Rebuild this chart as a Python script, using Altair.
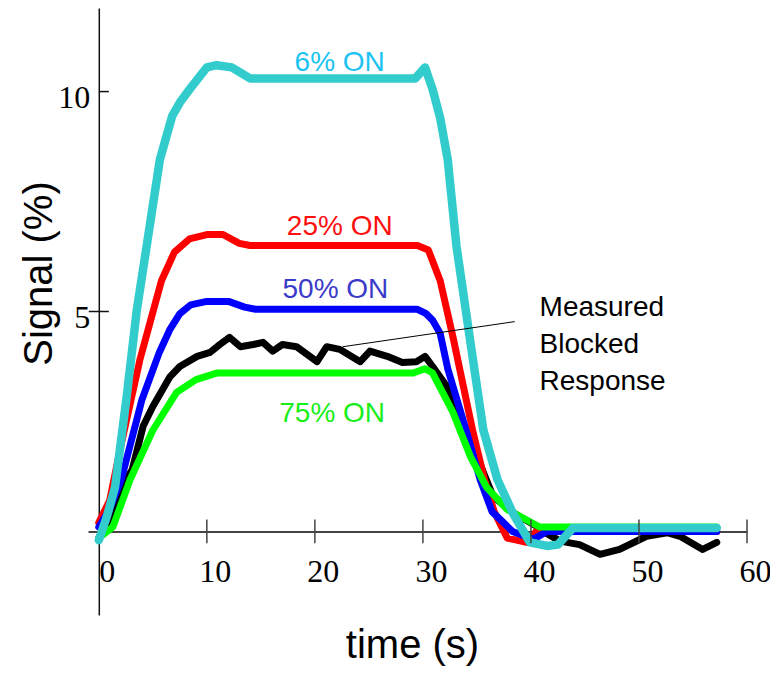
import altair as alt
import pandas as pd

# ---- data ----
t_6 = [0, 0.7, 1.5, 2.6, 3.5, 4.5, 5.65, 6.8, 7.5, 8.4, 10, 10.9, 12.3, 14, 29.3, 30.2, 30.9, 31.6, 32.3, 33.1, 34.4, 35.6, 36.9, 38.3, 39.9, 41.5, 42.5, 43.9, 57.2]
s_6 = [-0.2, 0.3, 1.0, 3.1, 5.0, 6.6, 8.45, 9.45, 9.75, 10.05, 10.55, 10.6, 10.55, 10.3, 10.3, 10.55, 10.05, 9.4, 8.45, 6.5, 4.3, 2.3, 1.18, 0.43, -0.25, -0.33, -0.3, 0.08, 0.08]

t_25 = [0, 1, 2, 3.8, 5.8, 7.0, 8.4, 10, 11.5, 13, 14, 29.5, 30.5, 31.6, 32.2, 32.8, 34.6, 35.7, 36.6, 37.8, 39.6, 40.5, 57.2]
s_25 = [0.2, 0.7, 1.9, 3.9, 5.7, 6.35, 6.65, 6.75, 6.75, 6.55, 6.5, 6.5, 6.4, 5.7, 5.05, 4.4, 2.3, 1.18, 0.45, -0.15, -0.25, 0.0, 0.0]

t_50 = [0, 1, 2.1, 4, 5.6, 6.6, 7.5, 8.5, 10, 12, 13.5, 14.5, 29.5, 30.3, 30.9, 31.6, 32.3, 34.0, 35.3, 36.4, 38.3, 40.2, 41.5, 57.2]
s_50 = [0.1, 0.5, 1.2, 3.0, 4.07, 4.6, 4.95, 5.15, 5.23, 5.23, 5.1, 5.05, 5.05, 4.95, 4.8, 4.5, 3.7, 2.3, 1.18, 0.45, 0.0, -0.18, 0.0, 0.0]

t_75 = [0, 1.3, 2.9, 5.0, 7.2, 9.0, 10.9, 29.1, 30.2, 30.9, 32.8, 34.4, 35.9, 37.8, 40.8, 57.2]
s_75 = [-0.15, 0.1, 1.18, 2.3, 3.16, 3.45, 3.6, 3.6, 3.7, 3.6, 2.7, 1.7, 1.0, 0.5, 0.1, 0.1]

t_meas = [0, 1, 2, 3.1, 4.1, 5.0, 6.6, 7.5, 9.1, 10.3, 11.2, 12.1, 13.1, 14.3, 15.2, 16.1, 17.0, 18.3, 20.2, 21.1, 22.3, 24.2, 25.1, 26.7, 28.1, 29.4, 30.2, 30.9, 32.2, 32.8, 34.4, 35.6, 36.5, 38.3, 40.6, 41.5, 42.7, 44.5, 46.4, 48.2, 50.7, 52.6, 53.8, 55.9, 57.2]
s_meas = [-0.15, 0.3, 0.95, 1.41, 2.39, 2.84, 3.52, 3.75, 3.98, 4.07, 4.25, 4.41, 4.2, 4.25, 4.3, 4.1, 4.25, 4.2, 3.86, 4.2, 4.14, 3.86, 4.1, 3.98, 3.84, 3.86, 3.98, 3.75, 3.3, 2.84, 2.1, 1.34, 0.8, 0.43, 0.11, -0.05, -0.22, -0.3, -0.52, -0.41, -0.11, -0.03, -0.11, -0.41, -0.25]

label_text = ["6% ON", "25% ON", "50% ON", "75% ON"]
label_t = [22.3, 22.3, 21.9, 21.6]
label_s = [10.66, 6.93, 5.5, 2.66]
label_color = ["#1cc3f2", "#ff1010", "#3b3bc9", "#19ee19"]

annot_text = "Measured\nBlocked\nResponse"
annot_t = [40.8]
annot_s = [5.09]
pointer_t = [22.6]
pointer_s = [4.2]
pointer_t2 = [38.5]
pointer_s2 = [4.77]

x_tick_labels = [0, 10, 20, 30, 40, 50, 60]
x_tick_marks = [10, 20, 30, 40, 50, 60]
y_tick_labels = [5, 10]

# ---- scales / axes ----
xscale = alt.Scale(domain=[-1, 60], nice=False, zero=False)
yscale = alt.Scale(domain=[-1.9, 11.9], nice=False, zero=False)

xaxis = alt.Axis(
    values=x_tick_labels, offset=-83.6, ticks=False, grid=False,
    domainColor="#444444", domainWidth=2,
    labelFont="Liberation Serif", labelFontSize=32, labelColor="black",
    labelBaseline="middle", labelAlign="center", labelPadding=40, labelOffset=8,
    labelFlush=False, labelOverlap=False,
    title="time (s)", titleFont="Liberation Sans", titleFontSize=40,
    titleFontWeight="normal", titleColor="black",
    titleX=324, titleY=114, titleAlign="center", titleBaseline="middle",
)
yaxis = alt.Axis(
    values=y_tick_labels, offset=-10.8, ticks=False, grid=False,
    domainColor="#111111", domainWidth=1.5,
    labelFont="Liberation Serif", labelFontSize=32, labelColor="black",
    labelBaseline="middle", labelAlign="right", labelPadding=9, labelOffset=6,
    labelFlush=False, labelOverlap=False,
    title="Signal (%)", titleFont="Liberation Sans", titleFontSize=40,
    titleFontWeight="normal", titleColor="black",
    titleX=-59, titleY=265, titleAngle=270, titleAlign="center", titleBaseline="middle",
)


def line_layer(ts, ss, color, width):
    d = pd.DataFrame({"t": ts, "s": ss, "o": list(range(len(ts)))})
    return alt.Chart(d).mark_line(
        color=color, strokeWidth=width, strokeJoin="round", strokeCap="round"
    ).encode(
        x=alt.X("t:Q", scale=xscale, axis=xaxis),
        y=alt.Y("s:Q", scale=yscale, axis=yaxis),
        order="o:Q",
    )


base = line_layer(t_meas, s_meas, "#000000", 7)
l25 = line_layer(t_25, s_25, "#ff0000", 7)
l50 = line_layer(t_50, s_50, "#0000ff", 7)
l75 = line_layer(t_75, s_75, "#00ff00", 7)
l6 = line_layer(t_6, s_6, "#33cccc", 8.5)

TICK_HALF_Y = 0.27   # half tick length in data units (style)
TICK_HALF_X = 0.93

xt_df = pd.DataFrame({"t": x_tick_marks})
xt_df["lo"] = -TICK_HALF_Y
xt_df["hi"] = TICK_HALF_Y
xt = alt.Chart(xt_df).mark_rule(color="#444444", strokeWidth=1.5).encode(
    x=alt.X("t:Q", scale=xscale, axis=xaxis),
    y=alt.Y("lo:Q", scale=yscale, axis=yaxis),
    y2="hi:Q",
)
yt_df = pd.DataFrame({"s": y_tick_labels, "lo": [-TICK_HALF_X, 0], "hi": [TICK_HALF_X, TICK_HALF_X]})
yt = alt.Chart(yt_df).mark_rule(color="#111111", strokeWidth=1.5).encode(
    y=alt.Y("s:Q", scale=yscale, axis=yaxis),
    x=alt.X("lo:Q", scale=xscale, axis=xaxis),
    x2="hi:Q",
)

labels = alt.Chart(pd.DataFrame({"t": label_t, "s": label_s, "txt": label_text, "c": label_color})).mark_text(
    font="Liberation Sans", fontSize=28, align="center", baseline="middle"
).encode(
    x=alt.X("t:Q", scale=xscale, axis=xaxis),
    y=alt.Y("s:Q", scale=yscale, axis=yaxis),
    text="txt:N",
    color=alt.Color("c:N", scale=None),
)

annot = alt.Chart(pd.DataFrame({"t": annot_t, "s": annot_s, "txt": [annot_text]})).mark_text(
    font="Liberation Sans", fontSize=28, align="left", baseline="middle",
    lineBreak="\n", lineHeight=37, color="black"
).encode(
    x=alt.X("t:Q", scale=xscale, axis=xaxis),
    y=alt.Y("s:Q", scale=yscale, axis=yaxis),
    text="txt:N",
)

pointer = alt.Chart(pd.DataFrame({"t": pointer_t, "s": pointer_s, "t2": pointer_t2, "s2": pointer_s2})).mark_rule(
    color="black", strokeWidth=1
).encode(
    x=alt.X("t:Q", scale=xscale, axis=xaxis),
    y=alt.Y("s:Q", scale=yscale, axis=yaxis),
    x2="t2:Q",
    y2="s2:Q",
)

chart = alt.layer(base, l25, l50, l75, l6, xt, yt, pointer, labels, annot).properties(
    width=659, height=607,
    autosize=alt.AutoSizeParams(type="none"),
    padding={"left": 80, "top": 0, "right": 23, "bottom": 52},
).configure(background="white").configure_view(stroke=None)

chart.save("out.html", embed_options={"renderer": "svg", "actions": False})
